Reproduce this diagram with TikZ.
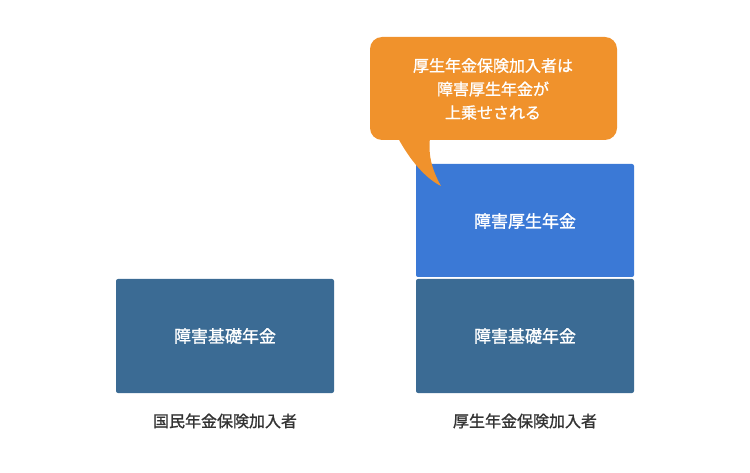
\documentclass[tikz,border=0pt]{standalone}
\usepackage{fontspec}
\newfontfamily\jp{Noto Sans CJK JP}[AutoFakeBold=1.2]
\definecolor{dblue}{HTML}{3B6B94}
\definecolor{lblue}{HTML}{3B79D6}
\definecolor{orng}{HTML}{F0922C}
\definecolor{txt}{HTML}{333333}
\begin{document}
\begin{tikzpicture}[x=1pt,y=-1pt,
  box/.style={rounded corners=2pt,inner sep=0pt,text=white,font=\jp\bfseries\fontsize{17}{20}\selectfont},
  lbl/.style={text=txt,font=\jp\bfseries\fontsize{16}{19}\selectfont}]
\useasboundingbox (0,0) rectangle (750,473);
\fill[dblue,rounded corners=2pt] (116,279) rectangle (334,393);
\node[box] (a) at (225,336) {障害基礎年金};
\fill[dblue,rounded corners=2pt] (416,279) rectangle (634,393);
\node[box] (b) at (525,336) {障害基礎年金};
\fill[lblue,rounded corners=2pt] (416,164) rectangle (634,277);
\node[box] (c) at (525,221) {障害厚生年金};
\node[lbl] (la) at (225,421) {国民年金保険加入者};
\node[lbl] (lb) at (525,421) {厚生年金保険加入者};
\fill[orng,rounded corners=12pt] (370,37) rectangle (617,140);
\fill[orng] (398,138) .. controls (410,160) and (425,178) .. (441,186) .. controls (432,170) and (428,155) .. (430,138) -- cycle;
\node[box,align=center,font=\jp\bfseries\fontsize{16}{23.5}\selectfont] (t) at (493,89) {厚生年金保険加入者は\\障害厚生年金が\\上乗せされる};
\end{tikzpicture}
\end{document}
